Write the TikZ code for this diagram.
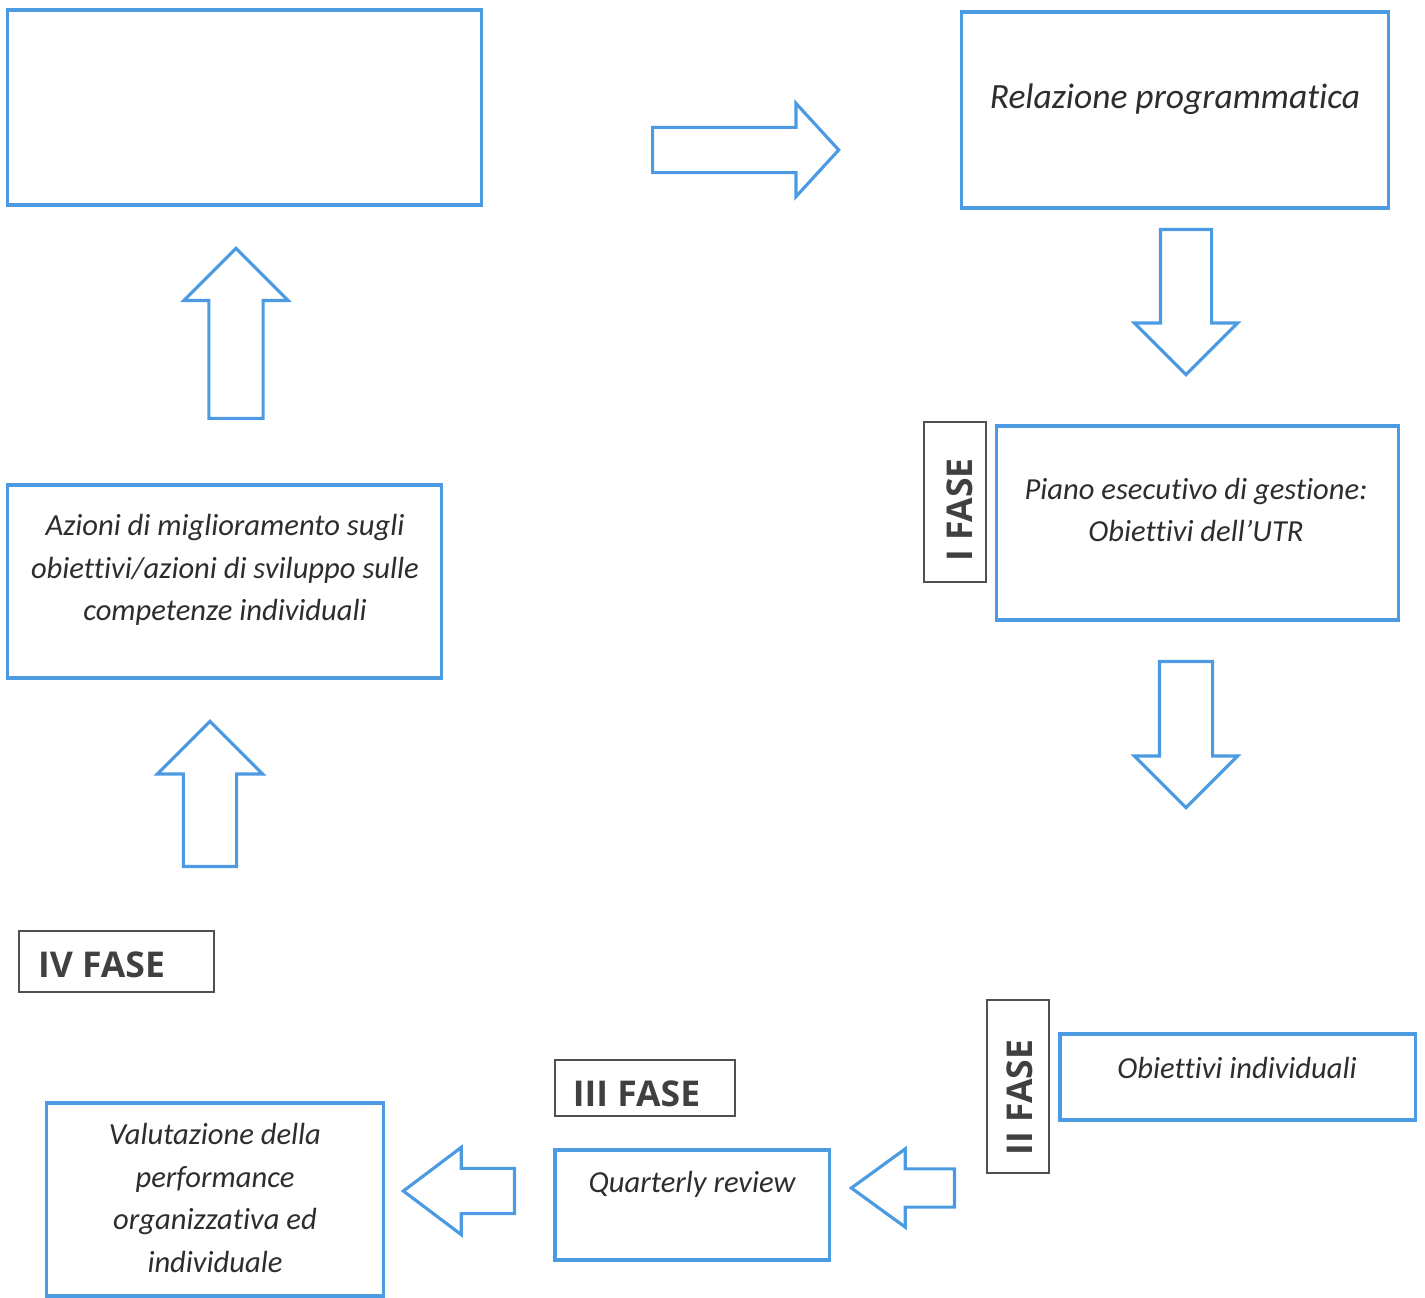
\documentclass[tikz,border=0pt]{standalone}
\usepackage{fontspec}
\setmainfont{Carlito}[Ligatures=NoCommon]
\newfontfamily\fasefont{Open Sans}
\usetikzlibrary{shapes.arrows}
\definecolor{boxblue}{RGB}{76,155,226}
\definecolor{fasegray}{RGB}{80,80,80}
\definecolor{txtgray}{RGB}{45,45,45}
\tikzset{
	box/.style={draw=boxblue, line width=0.9pt, inner sep=0pt},
	fasebox/.style={draw=fasegray, line width=0.7pt, inner sep=0pt},
	txt/.style={font=\itshape\fontsize{8.7}{12.1}\selectfont, text=txtgray, align=center, inner sep=0pt},
	bigtxt/.style={txt, font=\itshape\fontsize{10.1}{12.1}\selectfont},
	fasetxt/.style={font=\fasefont\bfseries\fontsize{10.1}{12}\selectfont, text=fasegray!80!black, inner sep=0pt},
	blockarrow/.style={single arrow, draw=boxblue, line width=0.9pt, inner xsep=0pt, single arrow head indent=0pt, anchor=tail}
}
\begin{document}
\begin{tikzpicture}[x=0.01cm, y=-0.01cm]
	\useasboundingbox (0,0) rectangle (1425,1298);
	\node[box, minimum width=4.73cm, minimum height=1.95cm] (agenda) at (244.5,107.5) {};
	\node[box, minimum width=4.26cm, minimum height=1.96cm] (relaz) at (1175,110) {};
	\node[bigtxt, anchor=base] (relaztxt) at (1175,108.5) {Relazione programmatica};
	\node[fasebox, minimum width=0.62cm, minimum height=1.60cm] (fase1) at (955,502) {};
	\node[fasetxt, rotate=90] (fase1txt) at (959.5,510) {I FASE};
	\node[box, minimum width=4.01cm, minimum height=1.94cm] (peg) at (1197.5,523) {};
	\node[txt] (pegtxt) at (1196,510) {Piano esecutivo di gestione:\\Obiettivi dell’UTR};
	\node[fasebox, minimum width=0.62cm, minimum height=1.73cm] (fase2) at (1018,1086.5) {};
	\node[fasetxt, rotate=90] (fase2txt) at (1019.5,1097.5) {II FASE};
	\node[box, minimum width=3.55cm, minimum height=0.86cm] (obind) at (1237.5,1077) {};
	\node[txt, anchor=base] (obindtxt) at (1237,1078) {Obiettivi individuali};
	\node[fasebox, minimum width=1.80cm, minimum height=0.56cm] (fase3) at (645,1088) {};
	\node[fasetxt] (fase3txt) at (636.5,1094) {III FASE};
	\node[box, minimum width=2.74cm, minimum height=1.10cm] (review) at (692,1205) {};
	\node[txt, anchor=base] (reviewtxt) at (692,1192) {Quarterly review};
	\node[box, minimum width=3.36cm, minimum height=1.93cm] (valut) at (215,1199.5) {};
	\node[txt] (valuttxt) at (215,1198) {Valutazione della\\performance\\organizzativa ed\\individuale};
	\node[fasebox, minimum width=1.95cm, minimum height=0.61cm] (fase4) at (116.5,961.5) {};
	\node[fasetxt] (fase4txt) at (101.5,965) {IV FASE};
	\node[box, minimum width=4.33cm, minimum height=1.93cm] (azioni) at (224.5,581.5) {};
	\node[txt] (azionitxt) at (225,570) {Azioni di miglioramento sugli\\obiettivi/azioni di sviluppo sulle\\competenze individuali};
	\node[blockarrow, minimum height=1.86cm, inner ysep=0.21cm, single arrow head extend=0.24cm, single arrow tip angle=95] (arrA) at (651,150) {};
	\node[blockarrow, rotate=-90, minimum height=1.45cm, inner ysep=0.24cm, single arrow head extend=0.26cm, single arrow tip angle=90] (arrB) at (1186,228) {};
	\node[blockarrow, rotate=-90, minimum height=1.46cm, inner ysep=0.25cm, single arrow head extend=0.25cm, single arrow tip angle=90] (arrC) at (1186,660) {};
	\node[blockarrow, rotate=180, minimum height=1.03cm, inner ysep=0.175cm, single arrow head extend=0.20cm, single arrow tip angle=72] (arrD) at (956,1188) {};
	\node[blockarrow, rotate=180, minimum height=1.11cm, inner ysep=0.21cm, single arrow head extend=0.21cm, single arrow tip angle=74] (arrE) at (516,1191) {};
	\node[blockarrow, rotate=90, minimum height=1.45cm, inner ysep=0.25cm, single arrow head extend=0.26cm, single arrow tip angle=90] (arrF) at (210,868) {};
	\node[blockarrow, rotate=90, minimum height=1.70cm, inner ysep=0.255cm, single arrow head extend=0.25cm, single arrow tip angle=90] (arrG) at (236,420) {};
\end{tikzpicture}
\end{document}
